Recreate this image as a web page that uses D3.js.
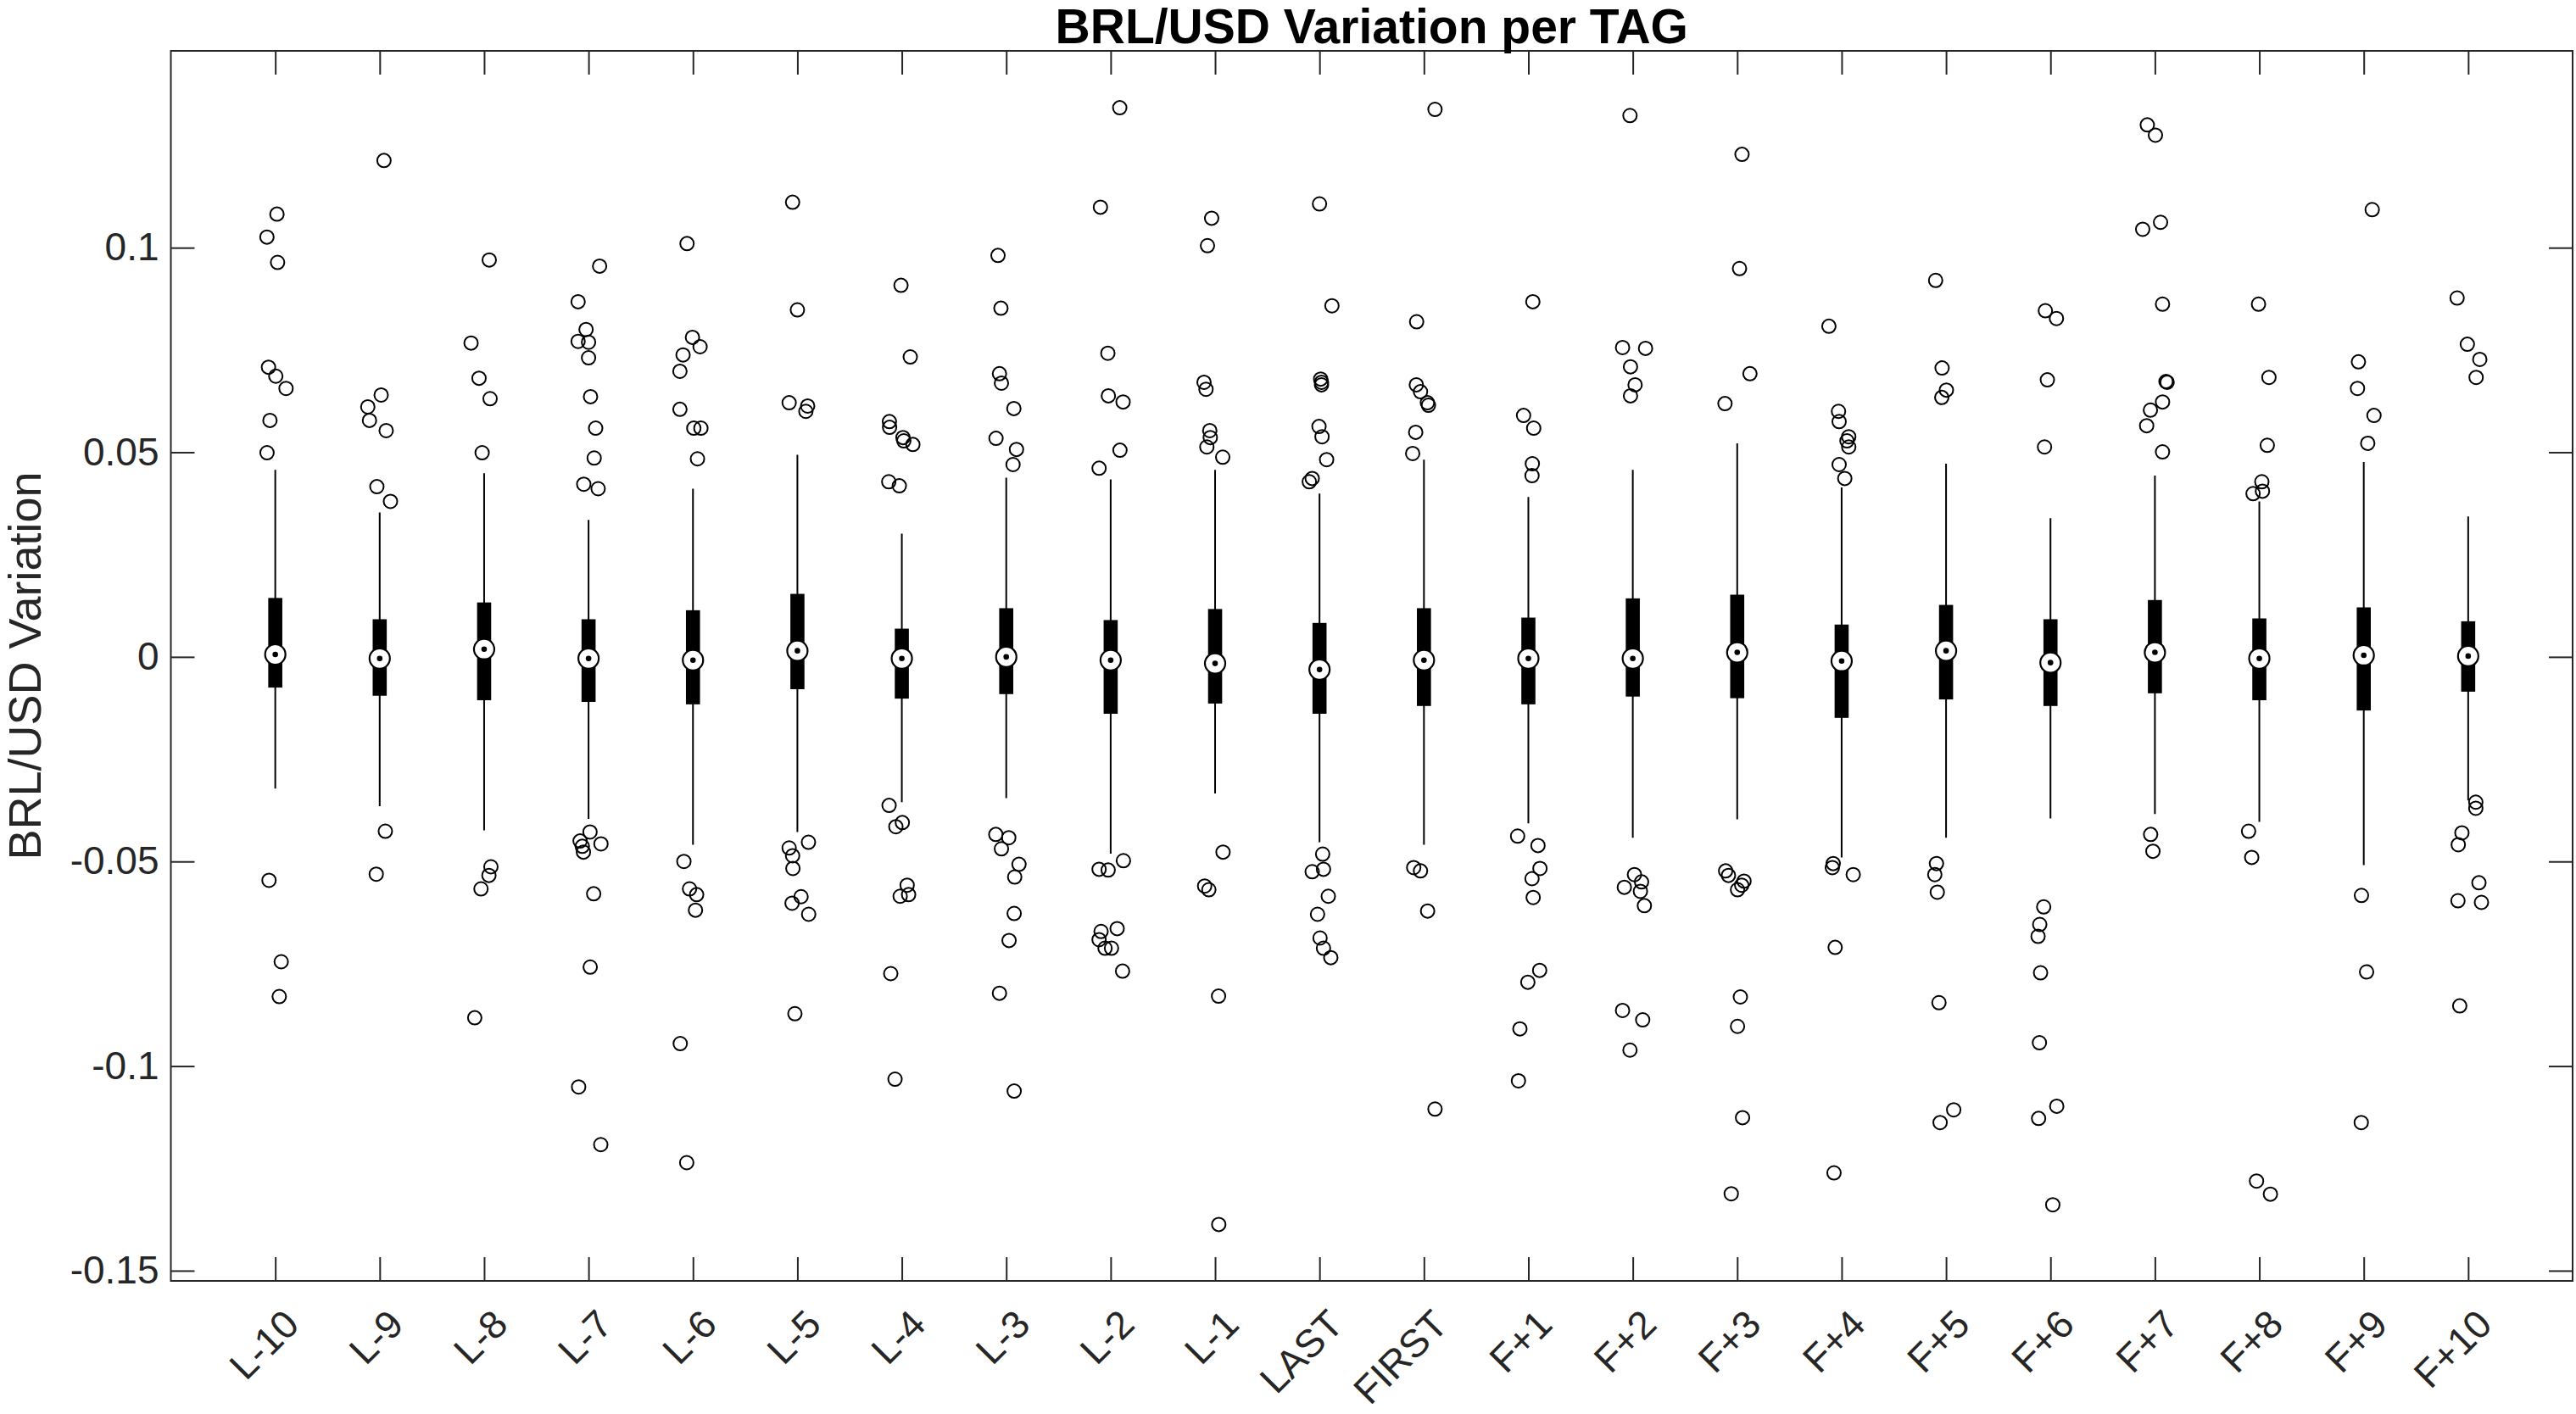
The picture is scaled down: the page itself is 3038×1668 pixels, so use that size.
<!DOCTYPE html>
<html>
<head>
<meta charset="utf-8">
<script src="https://cdn.jsdelivr.net/npm/d3@7"></script>
<style>
  html, body { margin: 0; padding: 0; background: #fff; }
  svg { display: block; font-family: "Liberation Sans", Arial, Helvetica, sans-serif; }
</style>
</head>
<body>
<svg id="chart"></svg>
<script>
// categories and box statistics
var categories = ['L-10', 'L-9', 'L-8', 'L-7', 'L-6', 'L-5', 'L-4', 'L-3', 'L-2', 'L-1',
  'LAST', 'FIRST', 'F+1', 'F+2', 'F+3', 'F+4', 'F+5', 'F+6', 'F+7', 'F+8', 'F+9', 'F+10'];

var whiskerLow = [-0.0322, -0.0365, -0.0424, -0.0396, -0.0459, -0.0428, -0.0355, -0.0345, -0.0481, -0.0334, -0.0453,
  -0.0459, -0.0407, -0.0442, -0.0397, -0.0490, -0.0442, -0.0395, -0.0384, -0.0403, -0.0509, -0.0351];
var q1 = [-0.0075, -0.0095, -0.0106, -0.0110, -0.0116, -0.0079, -0.0102, -0.0091, -0.0139, -0.0114, -0.0139,
  -0.0120, -0.0116, -0.0097, -0.0101, -0.0149, -0.0104, -0.0120, -0.0089, -0.0106, -0.0131, -0.0085];
var medians = [0.0006, -0.0004, 0.0019, -0.0004, -0.0008, 0.0015, -0.0004, 0.0000, -0.0008, -0.0016, -0.0031,
  -0.0008, -0.0004, -0.0004, 0.0011, -0.0010, 0.0015, -0.0014, 0.0011, -0.0004, 0.0004, 0.0002];
var q3 = [0.0144, 0.0092, 0.0133, 0.0092, 0.0114, 0.0154, 0.0069, 0.0119, 0.0090, 0.0117, 0.0083,
  0.0119, 0.0096, 0.0143, 0.0152, 0.0079, 0.0127, 0.0092, 0.0139, 0.0094, 0.0121, 0.0087];
var whiskerHigh = [0.0457, 0.0353, 0.0449, 0.0335, 0.0411, 0.0494, 0.0301, 0.0438, 0.0434, 0.0457, 0.0399,
  0.0482, 0.0391, 0.0457, 0.0522, 0.0414, 0.0472, 0.0339, 0.0443, 0.0380, 0.0476, 0.0343];

// outliers per category, and their small sideways jitter (in category units)
var outlierValues = [
  [0.1082, 0.1026, 0.0964, 0.0708, 0.0686, 0.0656, 0.0578, 0.0499, -0.0546, -0.0745, -0.0830],
  [0.1213, 0.0640, 0.0611, 0.0578, 0.0553, 0.0416, 0.0380, -0.0426, -0.0531],
  [0.0970, 0.0767, 0.0681, 0.0631, 0.0499, -0.0513, -0.0534, -0.0567, -0.0882],
  [0.0955, 0.0868, 0.0800, 0.0771, 0.0769, 0.0731, 0.0636, 0.0559, 0.0486, 0.0422, 0.0411,
    -0.0428, -0.0450, -0.0463, -0.0477, -0.0457, -0.0579, -0.0758, -0.1051, -0.1192],
  [0.1010, 0.0781, 0.0758, 0.0738, 0.0698, 0.0605, 0.0559, 0.0559, 0.0484, -0.0500, -0.0567, -0.0581, -0.0619, -0.0945, -0.1236],
  [0.1111, 0.0848, 0.0621, 0.0613, 0.0600, -0.0453, -0.0467, -0.0486, -0.0517, -0.0586, -0.0602, -0.0629, -0.0872],
  [0.0908, 0.0733, 0.0575, 0.0561, 0.0536, 0.0528, 0.0519, 0.0428, 0.0418,
    -0.0363, -0.0405, -0.0415, -0.0558, -0.0581, -0.0585, -0.0774, -0.1032],
  [0.0981, 0.0852, 0.0692, 0.0669, 0.0607, 0.0534, 0.0507, 0.0470,
    -0.0434, -0.0442, -0.0469, -0.0507, -0.0538, -0.0627, -0.0693, -0.0822, -0.1061],
  [0.1342, 0.1099, 0.0742, 0.0638, 0.0623, 0.0505, 0.0461,
    -0.0498, -0.0519, -0.0521, -0.0664, -0.0671, -0.0691, -0.0712, -0.0712, -0.0768],
  [0.1072, 0.1005, 0.0671, 0.0654, 0.0553, 0.0536, 0.0513, 0.0488, -0.0477, -0.0560, -0.0569, -0.0829, -0.1387],
  [0.1107, 0.0858, 0.0679, 0.0671, 0.0665, 0.0563, 0.0538, 0.0482, 0.0436, 0.0428,
    -0.0482, -0.0519, -0.0525, -0.0585, -0.0629, -0.0687, -0.0712, -0.0735],
  [0.1338, 0.0819, 0.0665, 0.0648, 0.0621, 0.0615, 0.0549, 0.0497, -0.0515, -0.0523, -0.0621, -0.1105],
  [0.0868, 0.0590, 0.0559, 0.0472, 0.0443, -0.0438, -0.0461, -0.0517, -0.0542, -0.0588, -0.0766, -0.0795, -0.0909, -0.1036],
  [0.1323, 0.0756, 0.0754, 0.0709, 0.0665, 0.0638, -0.0532, -0.0550, -0.0563, -0.0573, -0.0608, -0.0864, -0.0887, -0.0961],
  [0.1228, 0.0949, 0.0692, 0.0619, -0.0523, -0.0534, -0.0548, -0.0558, -0.0569, -0.0831, -0.0903, -0.1126, -0.1312],
  [0.0808, 0.0600, 0.0575, 0.0538, 0.0528, 0.0513, 0.0470, 0.0436, -0.0505, -0.0515, -0.0532, -0.0710, -0.1261],
  [0.0920, 0.0706, 0.0652, 0.0634, -0.0505, -0.0532, -0.0575, -0.0845, -0.1107, -0.1138],
  [0.0846, 0.0827, 0.0677, 0.0513, -0.0611, -0.0654, -0.0683, -0.0772, -0.0943, -0.1098, -0.1128, -0.1339],
  [0.1300, 0.1275, 0.1062, 0.1045, 0.0862, 0.0673, 0.0671, 0.0623, 0.0603, 0.0565, 0.0501, -0.0434, -0.0475],
  [0.0862, 0.0683, 0.0517, 0.0428, 0.0405, 0.0399, -0.0426, -0.0490, -0.1281, -0.1313],
  [0.1093, 0.0721, 0.0656, 0.0590, 0.0522, -0.0583, -0.0770, -0.1138],
  [0.0877, 0.0764, 0.0727, 0.0683, -0.0355, -0.0370, -0.0430, -0.0459, -0.0552, -0.0596, -0.0600, -0.0853]
];
var outlierJitter = [
  [0.016, -0.080, 0.022, -0.065, 0.005, 0.103, -0.051, -0.079, -0.060, 0.057, 0.038],
  [0.041, 0.014, -0.114, -0.098, 0.062, -0.027, 0.103, 0.054, -0.033],
  [0.049, -0.125, -0.049, 0.057, -0.019, 0.065, 0.046, -0.030, -0.090],
  [0.106, -0.100, -0.024, -0.100, 0.000, 0.000, 0.019, 0.068, 0.054, -0.046, 0.092,
    0.014, -0.081, -0.060, -0.049, 0.119, 0.049, 0.016, -0.095, 0.117],
  [-0.057, -0.005, 0.068, -0.095, -0.125, -0.125, 0.008, 0.076, 0.043, -0.087, -0.033, 0.035, 0.024, -0.122, -0.060],
  [-0.046, 0.000, -0.079, 0.098, 0.081, 0.106, -0.079, -0.046, -0.043, 0.035, -0.051, 0.108, -0.024],
  [-0.008, 0.081, -0.119, -0.117, 0.011, 0.019, 0.106, -0.125, -0.024,
    -0.122, 0.005, -0.057, 0.051, 0.065, -0.016, -0.106, -0.065],
  [-0.079, -0.051, -0.065, -0.046, 0.073, -0.098, 0.098, 0.065,
    -0.100, 0.024, -0.046, 0.122, 0.081, 0.076, 0.027, -0.065, 0.076],
  [0.087, -0.098, -0.027, -0.022, 0.119, 0.089, -0.111,
    0.122, -0.111, -0.024, 0.062, -0.092, -0.111, -0.054, 0.008, 0.114],
  [-0.033, -0.073, -0.106, -0.087, -0.051, -0.046, -0.079, 0.073, 0.076, -0.100, -0.060, 0.033, 0.035],
  [0.000, 0.119, 0.011, 0.019, 0.019, -0.005, 0.024, 0.068, -0.070, -0.098,
    0.030, 0.038, -0.070, 0.084, -0.019, 0.005, 0.038, 0.108],
  [0.106, -0.070, -0.073, -0.033, 0.033, 0.043, -0.079, -0.108, -0.098, -0.033, 0.035, 0.106],
  [0.043, -0.046, 0.051, 0.038, 0.035, -0.103, 0.092, 0.111, 0.035, 0.046, 0.108, -0.005, -0.081, -0.095],
  [-0.027, -0.098, 0.122, -0.022, 0.022, -0.022, 0.016, 0.084, -0.081, 0.073, 0.111, -0.098, 0.095, -0.027],
  [0.046, 0.022, 0.122, -0.117, -0.111, -0.084, 0.065, 0.043, 0.003, 0.030, 0.003, 0.051, -0.057],
  [-0.122, -0.030, -0.024, 0.068, 0.051, 0.068, -0.024, 0.030, -0.081, -0.089, 0.111, -0.062, -0.073],
  [-0.100, -0.038, 0.003, -0.041, -0.092, -0.108, -0.084, -0.068, 0.073, -0.057],
  [-0.049, 0.057, -0.030, -0.057, -0.065, -0.103, -0.119, -0.095, -0.106, 0.060, -0.114, 0.022],
  [-0.073, 0.005, 0.054, -0.117, 0.073, 0.106, 0.117, 0.073, -0.043, -0.079, 0.073, -0.041, -0.019],
  [-0.008, 0.092, 0.076, 0.024, 0.030, -0.060, -0.103, -0.073, -0.027, 0.106],
  [0.081, -0.051, -0.060, 0.098, 0.038, -0.022, 0.027, -0.024],
  [-0.106, -0.008, 0.111, 0.076, 0.073, 0.073, -0.060, -0.095, 0.103, -0.098, 0.127, -0.081]
];

var yTicks = [-0.15, -0.1, -0.05, 0, 0.05, 0.1];
var yTickLabels = ['-0.15', '-0.1', '-0.05', '0', '0.05', '0.1'];

var chartTitle = 'BRL/USD Variation per TAG';
var yTitle = 'BRL/USD Variation';

// layout
var svgWidth = 3038, svgHeight = 1668;
var plotLeft = 201.5, plotRight = 3034, plotTop = 60, plotBottom = 1511;
var axisColor = '#262626';
var tickLen = 28;

var svg = d3.select('#chart')
  .attr('width', svgWidth)
  .attr('height', svgHeight);

svg.append('rect')
  .attr('width', svgWidth)
  .attr('height', svgHeight)
  .attr('fill', '#fff');

var xScale = d3.scaleLinear()
  .domain([0, categories.length + 1])
  .range([plotLeft, plotRight]);

var yScale = d3.scaleLinear()
  .domain([-0.1525, 0.1481])
  .range([plotBottom, plotTop]);

var catIdx = d3.range(1, categories.length + 1);

// axes (ticks point inward, mirrored on all four sides)
var x_axis = d3.axisBottom(xScale)
  .tickValues(catIdx)
  .tickFormat(function(i) { return categories[i - 1]; })
  .tickSizeInner(-tickLen)
  .tickSizeOuter(0);

var x_top = d3.axisTop(xScale)
  .tickValues(catIdx)
  .tickFormat('')
  .tickSizeInner(-tickLen)
  .tickSizeOuter(0);

var y_axis = d3.axisLeft(yScale)
  .tickValues(yTicks)
  .tickFormat(function(d, i) { return yTickLabels[i]; })
  .tickSizeInner(-tickLen)
  .tickSizeOuter(0)
  .tickPadding(14);

var y_right = d3.axisRight(yScale)
  .tickValues(yTicks)
  .tickFormat('')
  .tickSizeInner(-tickLen)
  .tickSizeOuter(0);

var gx = svg.append('g')
  .attr('transform', 'translate(0,' + plotBottom + ')')
  .call(x_axis);

// rotated category labels, top-right end just under the tick
gx.selectAll('.tick text')
  .attr('x', 0)
  .attr('y', 0)
  .attr('dy', null)
  .attr('transform', 'translate(30,54) rotate(-45)')
  .style('text-anchor', 'end');

svg.append('g')
  .attr('transform', 'translate(0,' + plotTop + ')')
  .call(x_top);

svg.append('g')
  .attr('transform', 'translate(' + plotLeft + ',0)')
  .call(y_axis);

svg.append('g')
  .attr('transform', 'translate(' + plotRight + ',0)')
  .call(y_right);

svg.selectAll('.domain').remove();
svg.selectAll('.tick line')
  .attr('stroke', axisColor)
  .attr('stroke-width', 2);
svg.selectAll('.tick text')
  .attr('fill', axisColor)
  .style('font-size', '46px')
  .style('font-family', '"Liberation Sans", Arial, Helvetica, sans-serif');

// frame
svg.append('rect')
  .attr('x', plotLeft)
  .attr('y', plotTop)
  .attr('width', plotRight - plotLeft)
  .attr('height', plotBottom - plotTop)
  .attr('fill', 'none')
  .attr('stroke', axisColor)
  .attr('stroke-width', 2);

// boxes (compact style)
var boxData = categories.map(function(c, i) {
  return { idx: i + 1, lo: whiskerLow[i], q1: q1[i], med: medians[i], q3: q3[i], hi: whiskerHigh[i] };
});

var boxes = svg.append('g').selectAll('g')
  .data(boxData)
  .enter()
  .append('g');

boxes.append('line')
  .attr('x1', function(d) { return xScale(d.idx); })
  .attr('x2', function(d) { return xScale(d.idx); })
  .attr('y1', function(d) { return yScale(d.hi); })
  .attr('y2', function(d) { return yScale(d.lo); })
  .attr('stroke', '#000')
  .attr('stroke-width', 2);

boxes.append('rect')
  .attr('x', function(d) { return xScale(d.idx) - 8.3; })
  .attr('width', 16.6)
  .attr('y', function(d) { return yScale(d.q3); })
  .attr('height', function(d) { return yScale(d.q1) - yScale(d.q3); })
  .attr('fill', '#000');

boxes.append('circle')
  .attr('cx', function(d) { return xScale(d.idx); })
  .attr('cy', function(d) { return yScale(d.med); })
  .attr('r', 12)
  .attr('fill', '#fff')
  .attr('stroke', '#000')
  .attr('stroke-width', 2.2);

boxes.append('circle')
  .attr('cx', function(d) { return xScale(d.idx); })
  .attr('cy', function(d) { return yScale(d.med); })
  .attr('r', 3.3)
  .attr('fill', '#000');

// outliers
var points = [];
outlierValues.forEach(function(vals, i) {
  vals.forEach(function(v, k) {
    points.push({ pos: i + 1 + outlierJitter[i][k], v: v });
  });
});

svg.append('g').selectAll('circle')
  .data(points)
  .enter()
  .append('circle')
  .attr('cx', function(d) { return xScale(d.pos); })
  .attr('cy', function(d) { return yScale(d.v); })
  .attr('r', 8)
  .attr('fill', 'none')
  .attr('stroke', '#000')
  .attr('stroke-width', 2);

// titles
svg.append('text')
  .attr('x', (plotLeft + plotRight) / 2)
  .attr('y', 51)
  .attr('text-anchor', 'middle')
  .attr('fill', '#000')
  .style('font-size', '57px')
  .style('font-weight', 'bold')
  .text(chartTitle);

svg.append('text')
  .attr('transform', 'translate(48,' + ((plotTop + plotBottom) / 2) + ') rotate(-90)')
  .attr('text-anchor', 'middle')
  .attr('fill', axisColor)
  .style('font-size', '54px')
  .text(yTitle);
</script>
</body>
</html>
